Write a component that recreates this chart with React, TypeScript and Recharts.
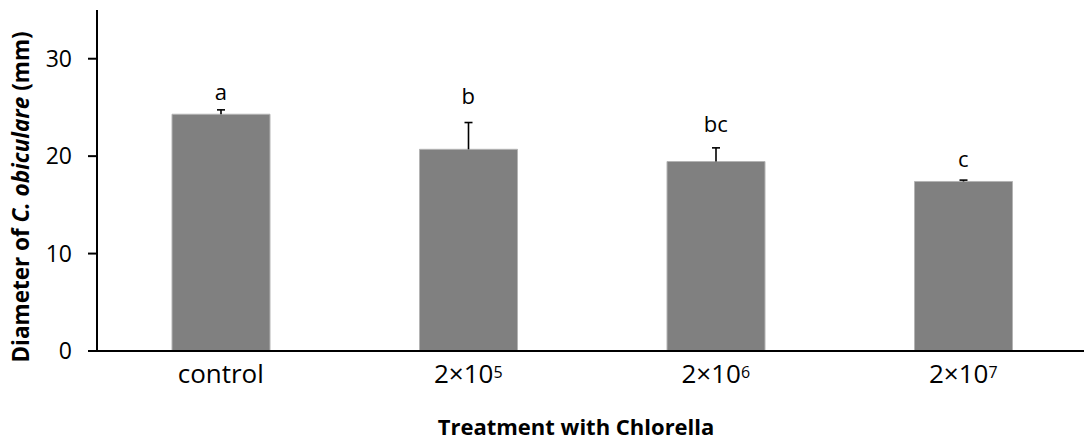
import React from 'react';
import { ComposedChart, Bar, Line, XAxis, YAxis, LabelList, Label } from 'recharts';

const categories = ['control', '2×10^5', '2×10^6', '2×10^7'];
const means = [24.3, 20.7, 19.45, 17.4];
const errors = [0.45, 2.75, 1.4, 0.14];
const letters = ['a', 'b', 'bc', 'c'];
const letterPos = [25.75, 25.35, 22.5, 18.85];
const yTicks = [0, 10, 20, 30];

const data = categories.map((c, i) => ({
  name: c,
  mean: means[i],
  err: errors[i],
  letter: letters[i],
  pos: letterPos[i],
}));

const FONT = "'Open Sans', 'Noto Sans', sans-serif";

const CategoryTick = (props: any) => {
  const { x, y, payload } = props;
  const parts = String(payload.value).split('^');
  return (
    <text x={x} y={y + 32} textAnchor="middle" fontFamily={FONT} fontSize={26} fill="#000">
      {parts[0]}
      {parts[1] ? (
        <tspan fontSize={16} dy={-5.5}>{parts[1]}</tspan>
      ) : null}
    </text>
  );
};

const LetterLabel = (props: any) => {
  const { x, y, value } = props;
  return (
    <text x={x} y={y} textAnchor="middle" fontFamily={FONT} fontSize={22} fill="#000">
      {value}
    </text>
  );
};

const ErrorShape = (props: any) => {
  const { x, y, width, height } = props;
  if (x == null || y == null) return null;
  const cx = x + width / 2;
  return (
    <g stroke="#000" strokeWidth={1.6}>
      <line x1={cx} y1={y + height} x2={cx} y2={y} />
      <line x1={cx - 4} y1={y} x2={cx + 4} y2={y} />
    </g>
  );
};

export default function App() {
  return (
    <div style={{ position: 'absolute', left: 0, top: 0, width: 1084, height: 442, overflow: 'hidden', background: '#fff' }}>
      <ComposedChart
        width={1100}
        height={442}
        data={data}
        margin={{ top: 10, right: 13, bottom: 0, left: 0 }}
      >
        <XAxis
          dataKey="name"
          height={91}
          axisLine={{ stroke: '#000', strokeWidth: 2 }}
          tickLine={false}
          tickSize={0}
          tickMargin={0}
          tick={<CategoryTick />}
          interval={0}
        >
          <Label
            content={() => (
              <text x={576} y={435} textAnchor="middle" fontFamily={FONT} fontSize={22} fontWeight="bold" fill="#000">
                Treatment with Chlorella
              </text>
            )}
          />
        </XAxis>
        <YAxis
          width={97}
          domain={[0, 35]}
          ticks={yTicks}
          allowDataOverflow
          axisLine={{ stroke: '#000', strokeWidth: 2 }}
          tickLine={{ stroke: '#000', strokeWidth: 2 }}
          tickSize={9}
          tickMargin={16}
          tick={{ fontFamily: FONT, fontSize: 23, fill: '#000' }}
        >
          <Label
            content={() => (
              <text
                transform="rotate(-90)"
                x={-197}
                y={29}
                textAnchor="middle"
                fontFamily={FONT}
                fontSize={22.5}
                fontWeight="bold"
                fill="#000"
              >
                Diameter of <tspan fontStyle="italic">C. obiculare</tspan> (mm)
              </text>
            )}
          />
        </YAxis>
        <Bar dataKey="mean" stackId="s" fill="#808080" stroke="#b4b4b4" strokeWidth={1} barSize={98} isAnimationActive={false} />
        <Bar dataKey="err" stackId="s" barSize={98} shape={<ErrorShape />} isAnimationActive={false} />
        <Line
          dataKey="pos"
          stroke="none"
          dot={false}
          activeDot={false}
          isAnimationActive={false}
          legendType="none"
        >
          <LabelList dataKey="letter" content={<LetterLabel />} />
        </Line>
      </ComposedChart>
    </div>
  );
}
